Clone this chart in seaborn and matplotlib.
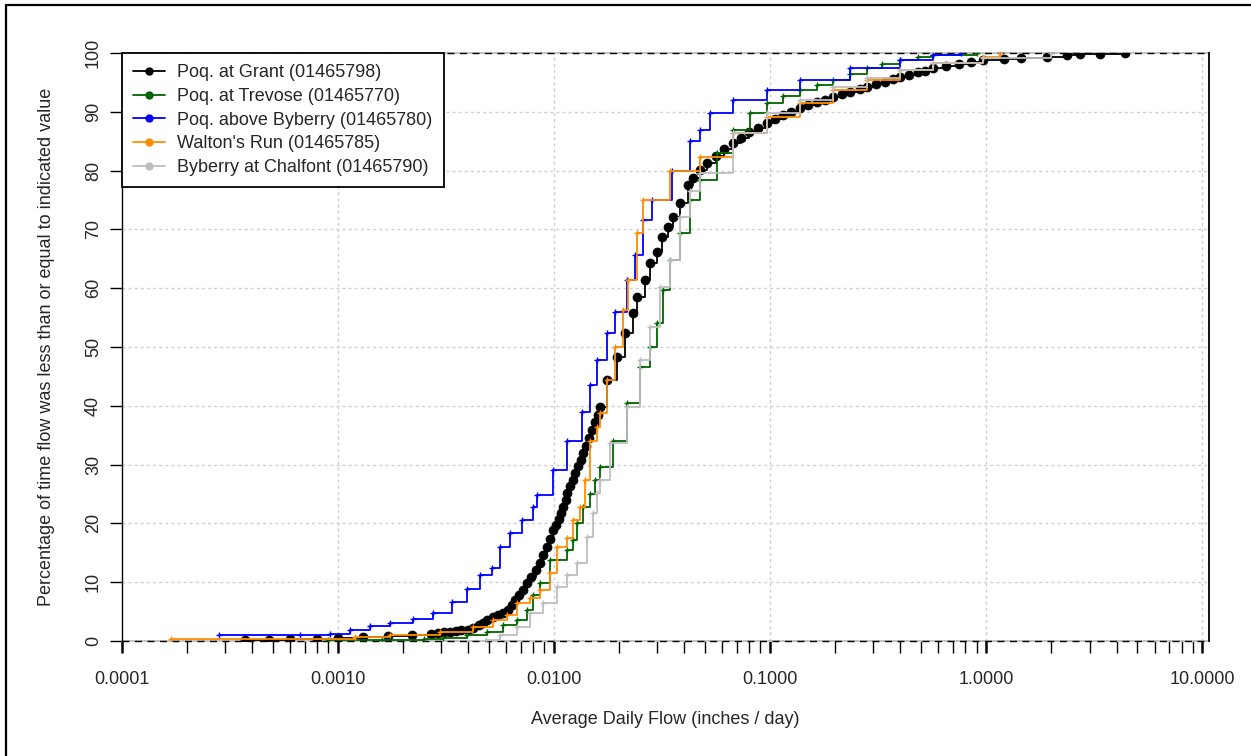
import matplotlib
matplotlib.use("Agg")
import matplotlib.pyplot as plt
import seaborn as sns
import pandas as pd
from matplotlib.lines import Line2D
from matplotlib.ticker import FixedLocator, FixedFormatter, NullFormatter

# ---------------- data ----------------
series_names = [
    "Poq. at Grant (01465798)",
    "Poq. at Trevose (01465770)",
    "Poq. above Byberry (01465780)",
    "Walton's Run (01465785)",
    "Byberry at Chalfont (01465790)",
]
series_colors = ["#000000", "#006400", "#0000ff", "#ff8c00", "#bebebe"]

grant_flow = [0.00037, 0.00048, 0.00060, 0.00080, 0.0010, 0.0013, 0.0017, 0.0022, 0.0027, 0.0029,
              0.0031, 0.0033, 0.0035, 0.0037, 0.0040, 0.0042, 0.0045, 0.0047, 0.0049, 0.0052,
              0.0055, 0.0058, 0.0061, 0.0064, 0.0066, 0.0069, 0.0072, 0.0075, 0.0078, 0.0082,
              0.0086, 0.0089, 0.0093, 0.0096, 0.0099, 0.0102, 0.0105, 0.0108, 0.0110, 0.0113,
              0.0115, 0.0118, 0.0122, 0.0125, 0.0129, 0.0133, 0.0136, 0.0140, 0.0145, 0.0150,
              0.0155, 0.0159, 0.0163, 0.0176, 0.0196, 0.0213, 0.0232, 0.0242, 0.0264, 0.0278,
              0.0300, 0.0316, 0.0337, 0.0356, 0.0383, 0.0415, 0.044, 0.0474, 0.051, 0.056,
              0.061, 0.0674, 0.073, 0.080, 0.088, 0.0968, 0.105, 0.115, 0.125, 0.1376,
              0.150, 0.165, 0.18, 0.196, 0.215, 0.235, 0.26, 0.281, 0.31, 0.34,
              0.37, 0.40, 0.44, 0.48, 0.52, 0.569, 0.65, 0.75, 0.85, 0.968,
              1.20, 1.44, 1.90, 2.37, 2.72, 3.37, 4.40]
grant_pct = [0.1, 0.2, 0.3, 0.4, 0.5, 0.6, 0.8, 1.0, 1.2, 1.3,
             1.5, 1.6, 1.7, 1.8, 1.9, 2.2, 2.7, 3.1, 3.6, 4.0,
             4.4, 4.8, 5.3, 6.1, 6.9, 7.8, 8.7, 9.8, 10.9, 12.1,
             13.3, 14.6, 16.0, 17.4, 18.9, 19.8, 20.8, 21.8, 22.8, 24.0,
             25.2, 26.3, 27.4, 28.5, 29.7, 30.8, 32.0, 33.2, 34.5, 35.8,
             37.2, 38.5, 39.8, 44.4, 48.3, 52.4, 55.8, 58.5, 61.4, 64.3,
             66.2, 68.7, 70.4, 72.1, 74.5, 77.5, 78.8, 80.1, 81.3, 82.5,
             83.6, 84.7, 85.6, 86.5, 87.3, 88.1, 88.8, 89.4, 90.0, 90.6,
             91.1, 91.6, 92.0, 92.5, 93.0, 93.4, 93.8, 94.2, 94.7, 95.1,
             95.5, 95.9, 96.3, 96.7, 97.0, 97.4, 97.8, 98.2, 98.5, 98.8,
             99.0, 99.1, 99.4, 99.7, 99.8, 99.9, 100.0]

trevose_flow = [0.0009, 0.0016, 0.0025, 0.00306, 0.00395, 0.0049, 0.0058, 0.00674, 0.0075, 0.0080,
                0.00861, 0.00958, 0.01148, 0.01224, 0.01277, 0.01362, 0.01469, 0.01549, 0.01633, 0.01875,
                0.02178, 0.0250, 0.0278, 0.0300, 0.0320, 0.0344, 0.0383, 0.0426, 0.0474, 0.0565,
                0.0674, 0.0807, 0.0968, 0.115, 0.1376, 0.165, 0.196, 0.235, 0.281, 0.33,
                0.400, 0.48, 0.569, 0.90]
trevose_pct = [0.1, 0.2, 0.3, 0.5, 1.0, 1.6, 2.7, 3.6, 5.3, 7.8,
               9.9, 13.8, 15.5, 17.2, 20.0, 22.8, 25.0, 27.4, 29.6, 34.0,
               40.5, 46.6, 50.0, 54.0, 59.7, 64.8, 69.4, 75.0, 78.4, 83.0,
               86.9, 89.8, 91.5, 92.7, 93.7, 94.6, 95.4, 96.5, 97.4, 98.1,
               98.8, 99.3, 99.7, 100.0]

byberry_flow = [0.000281, 0.000667, 0.00092, 0.00114, 0.00141, 0.00174, 0.00222, 0.00275, 0.00337, 0.00395,
                0.00454, 0.00516, 0.00562, 0.00625, 0.00711, 0.0080, 0.00834, 0.00989, 0.01148, 0.01348,
                0.0146, 0.01581, 0.01759, 0.01915, 0.02178, 0.02371, 0.02583, 0.02843, 0.0352, 0.0426,
                0.0474, 0.0527, 0.0674, 0.0968, 0.1376, 0.234, 0.40, 0.569, 0.76]
byberry_pct = [1.0, 1.1, 1.2, 1.9, 2.6, 3.0, 3.7, 4.7, 6.6, 8.8,
               11.2, 12.4, 16.0, 18.4, 20.6, 22.8, 24.8, 29.0, 34.0, 39.0,
               43.5, 47.8, 52.4, 56.0, 61.4, 65.6, 71.6, 75.0, 80.0, 85.0,
               86.9, 89.8, 92.0, 93.7, 95.4, 97.4, 98.8, 99.7, 100.0]

walton_flow = [0.000169, 0.0012, 0.00174, 0.00297, 0.00422, 0.00522, 0.00606, 0.00674, 0.00775, 0.00861,
               0.00958, 0.01032, 0.01148, 0.01224, 0.01319, 0.01392, 0.01469, 0.01581, 0.01633, 0.01759,
               0.01915, 0.02084, 0.02203, 0.02423, 0.02583, 0.0344, 0.0474, 0.0674, 0.0968, 0.1376,
               0.196, 0.281, 0.400, 0.569, 0.968, 1.16]
walton_pct = [0.35, 0.7, 1.0, 1.6, 2.4, 3.6, 4.4, 6.5, 7.3, 8.7,
              11.6, 16.0, 17.5, 20.6, 22.8, 27.4, 34.0, 36.4, 38.8, 44.4,
              50.0, 56.3, 61.4, 69.4, 75.0, 80.0, 82.3, 86.4, 89.1, 91.5,
              93.7, 95.4, 97.1, 98.3, 99.3, 100.0]

chalfont_flow = [0.00484, 0.00562, 0.00674, 0.00775, 0.00889, 0.01032, 0.01148, 0.01277, 0.01423, 0.01517,
                 0.0157, 0.01633, 0.01816, 0.02178, 0.0250, 0.0278, 0.0310, 0.0344, 0.0383, 0.0426,
                 0.0474, 0.0674, 0.0968, 0.1376, 0.196, 0.281, 0.400, 0.569, 0.968, 1.98]
chalfont_pct = [0.2, 1.0, 2.4, 4.7, 6.5, 9.2, 11.2, 13.2, 17.7, 21.8,
                25.2, 27.4, 33.7, 39.8, 47.8, 53.4, 60.2, 64.8, 72.1, 76.5,
                79.6, 86.4, 89.8, 92.0, 94.2, 95.7, 97.1, 98.3, 99.1, 100.0]

x_tick_values = [0.0001, 0.001, 0.01, 0.1, 1.0, 10.0]
x_tick_labels = ["0.0001", "0.0010", "0.0100", "0.1000", "1.0000", "10.0000"]
y_tick_values = [0, 10, 20, 30, 40, 50, 60, 70, 80, 90, 100]

x_label = "Average Daily Flow (inches / day)"
y_label = "Percentage of time flow was less than or equal to indicated value"

# ---------------- style ----------------
sns.set_style("white")
plt.rcParams["font.family"] = ["Liberation Sans", "DejaVu Sans"]
plt.rcParams["font.size"] = 13

W, H = 1251, 756
fig = plt.figure(figsize=(W / 100, H / 100), dpi=100)
L, R, T, B = 122, 1209, 53, 641
ax = fig.add_axes([L / W, 1 - B / H, (R - L) / W, (B - T) / H])
ax.set_xscale("log")
ax.set_xlim(1e-4, 10 ** (1 + 6.5 / 216))
ax.set_ylim(0, 100)

# grid
grid_kw = dict(color="#d0d0d0", lw=1.0, ls=(0, (2.2, 2.2)), zorder=0)
for v in x_tick_values[1:]:
    ax.axvline(v, **grid_kw)
for h in y_tick_values[1:-1]:
    ax.axhline(h, **grid_kw)

# 0 / 100 reference lines
for h in (0, 100):
    ax.axhline(h, color="#bebebe", lw=1.3, zorder=1.5, clip_on=False)
    ax.axhline(h, color="black", lw=1.0, ls=(0, (5, 4)), zorder=1.6, clip_on=False)

# series
all_series = [
    (grant_flow, grant_pct),
    (trevose_flow, trevose_pct),
    (byberry_flow, byberry_pct),
    (walton_flow, walton_pct),
    (chalfont_flow, chalfont_pct),
]
for i, ((fl, pc), name, col) in enumerate(zip(all_series, series_names, series_colors)):
    df = pd.DataFrame({"flow": fl, "pct": pc})
    if i == 0:
        mk = dict(marker="o", markersize=6.5, mec=col, mfc=col, mew=0.5)
    else:
        mk = dict(marker="+", markersize=4.5, mec=col, mfc=col, mew=1.0)
    sns.lineplot(data=df, x="flow", y="pct", ax=ax, color=col, drawstyle="steps-post",
                 estimator=None, sort=True, lw=1.3, legend=False, zorder=2 + i, **mk)

# spines
ax.spines["top"].set_visible(False)
ax.spines["bottom"].set_visible(False)
ax.spines["left"].set_linestyle((0, (1, 1)))
ax.spines["left"].set_color("black")
ax.spines["left"].set_linewidth(1.0)
ax.spines["right"].set_color("black")
ax.spines["right"].set_linewidth(1.3)

# ticks
ax.xaxis.set_major_locator(FixedLocator(x_tick_values))
ax.xaxis.set_major_formatter(FixedFormatter(x_tick_labels))
minor = [m * 10.0 ** e for e in range(-4, 1) for m in range(2, 10)]
ax.xaxis.set_minor_locator(FixedLocator(minor))
ax.xaxis.set_minor_formatter(NullFormatter())
ax.tick_params(axis="x", which="major", direction="out", length=8.5, width=1.8,
               color="black", pad=13, labelsize=13, bottom=True, top=False)
ax.tick_params(axis="x", which="minor", direction="out", length=8.5, width=1.0,
               color="black", bottom=True, top=False)
ax.set_yticks(y_tick_values)
ax.set_yticklabels([str(v) for v in y_tick_values])
ax.tick_params(axis="y", which="major", direction="out", length=8.5, width=1.0,
               color="black", pad=6, labelsize=13, left=True, right=False)
for lab in ax.get_yticklabels():
    lab.set_rotation(90)
    lab.set_va("center")
    lab.set_ha("right")

ax.set_xlabel(x_label, fontsize=13)
ax.xaxis.label.set_va("center")
ax.xaxis.set_label_coords(0.5, (B - 720) / (B - T))
ax.set_ylabel(y_label, fontsize=13)
ax.yaxis.label.set_va("center")
ax.yaxis.set_label_coords((47 - L) / (R - L), 0.5 + (347 - (T + B) / 2) / -(B - T))

# legend
handles = [Line2D([], [], color=c, lw=1.3, marker="o", markersize=5, mec=c, mfc=c)
           for c in series_colors]
leg = ax.legend(handles, series_names, loc="upper left", bbox_to_anchor=(0, 1),
                borderaxespad=0, frameon=True, fancybox=False, framealpha=1,
                edgecolor="black", fontsize=13, handlelength=1.75, handletextpad=0.7,
                labelspacing=0.37, borderpad=0.62)
leg.get_frame().set_linewidth(1.3)
leg.set_zorder(20)

# figure border
fig.add_artist(Line2D([6 / W, 1], [1 - 5 / H, 1 - 5 / H], transform=fig.transFigure,
                      color="black", lw=1.6))
fig.add_artist(Line2D([6 / W, 6 / W], [0, 1 - 5 / H], transform=fig.transFigure,
                      color="black", lw=1.6))

fig.savefig("out.png", dpi=100)
